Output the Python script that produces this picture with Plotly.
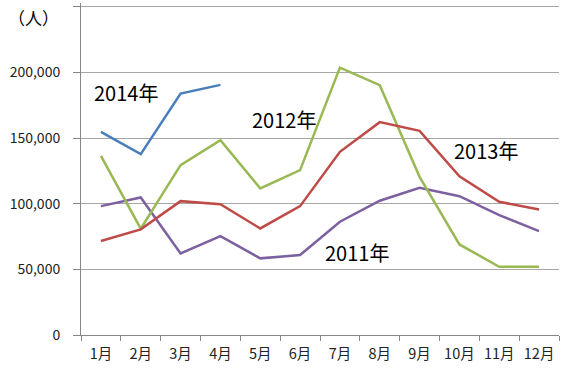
import plotly.graph_objects as go

months = ["1月", "2月", "3月", "4月", "5月", "6月", "7月", "8月", "9月", "10月", "11月", "12月"]
y2011 = [98200, 104800, 62200, 75400, 58400, 60900, 86300, 102300, 112200, 105800, 91400, 79200]
y2012 = [136500, 81000, 129400, 148500, 111700, 125600, 203800, 190400, 120500, 69000, 52000, 52000]
y2013 = [71600, 80500, 102000, 99700, 81200, 98200, 139600, 162200, 155600, 121000, 101500, 95700]
y2014 = [154800, 137800, 184000, 190600]
series_labels = ["2011年", "2012年", "2013年", "2014年"]
colors = ["#7D60A0", "#98B954", "#BE4B48", "#4A7EBB"]
y_tickvals = [0, 50000, 100000, 150000, 200000, 250000]
y_ticktext = ["0", "50,000", "100,000", "150,000", "200,000", ""]

FONT = "Noto Sans CJK JP"

fig = go.Figure()
for name, vals, col in zip(series_labels, [y2011, y2012, y2013, y2014], colors):
    fig.add_trace(go.Scatter(x=months[:len(vals)], y=vals, mode="lines", name=name,
                             line=dict(color=col, width=2.5), showlegend=False))

# series labels placed near lines (category index, value)
label_pos = {"2014年": (0.63, 184800), "2012年": (4.59, 164200), "2013年": (9.675, 140300), "2011年": (6.425, 62700)}
for name in series_labels:
    xi, yv = label_pos[name]
    fig.add_annotation(x=xi, y=yv, xref="x", yref="y", text=name, showarrow=False,
                       font=dict(family=FONT, size=20, color="#000000"))

fig.add_annotation(x=-0.157, y=0.957, xref="paper", yref="paper", text="（人）", showarrow=False,
                   xanchor="left", yanchor="middle", font=dict(family=FONT, size=17, color="#000000"))

fig.update_layout(
    width=567, height=372,
    margin=dict(l=81, r=8, t=3, b=37),
    paper_bgcolor="white", plot_bgcolor="white",
    font=dict(family=FONT, size=14, color="#222222"),
    xaxis=dict(type="category", categoryorder="array", categoryarray=months, automargin=False,
               range=[-0.5, 11.5], showgrid=False, showline=True, linecolor="#868686", linewidth=1,
               ticks="outside", tickson="boundaries", ticklen=5, tickcolor="#868686",
               ticklabelstandoff=6,
               tickfont=dict(family=FONT, size=14.5, color="#222222")),
    yaxis=dict(range=[0, 253000], tickmode="array", tickvals=y_tickvals, ticktext=y_ticktext,
               automargin=False, showgrid=True, gridcolor="#A6A6A6",
               gridwidth=1, showline=True, linecolor="#868686", linewidth=1, zeroline=False,
               ticks="outside", ticklen=7, tickcolor="#868686", ticklabelstandoff=10,
               tickfont=dict(family=FONT, size=14, color="#222222")),
)

fig.write_html("out.html", config={"displayModeBar": False},
               post_script="document.body.style.margin='0';")
